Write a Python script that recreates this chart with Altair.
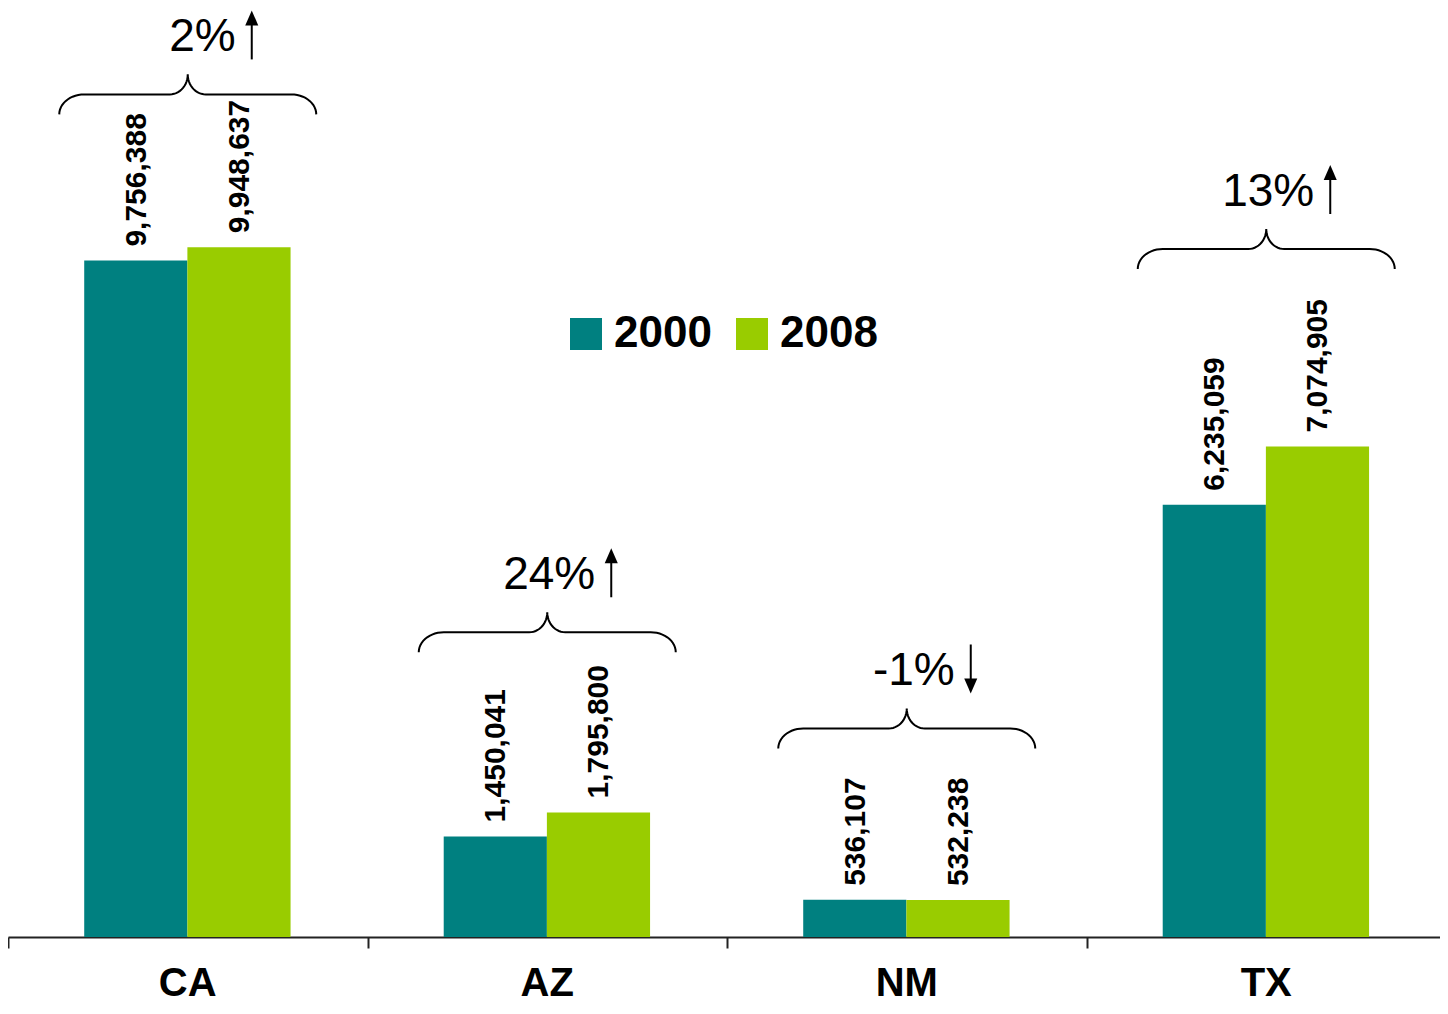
import altair as alt
import numpy as np
import pandas as pd

# ---- data ----
states = ["CA", "AZ", "NM", "TX"]
years = ["2000", "2008"]
pop_2000 = [9756388, 1450041, 536107, 6235059]
pop_2008 = [9948637, 1795800, 532238, 7074905]
change_labels = ["2%", "24%", "-1%", "13%"]
change_dir = ["up", "up", "down", "up"]
bracket_level = [11865000, 4107000, 2719000, 9635000]  # value level of brace ends

# ---- layout / style ----
W, H = 1432, 929
PX_X = 359.5                 # pixels per category slot
XMAX = W / PX_X
YMAX = 13.4e6
PX_Y = H / YMAX
FONT = "Liberation Sans"
TEAL = "#008080"
GREEN = "#99CC00"

# bars
rows = []
for i, s in enumerate(states):
    for yr, v, x0, x1 in (("2000", pop_2000[i], i + 0.212, i + 0.499),
                          ("2008", pop_2008[i], i + 0.499, i + 0.786)):
        rows.append(dict(state=s, year=yr, value=v, x0=x0, x1=x1,
                         xc=(x0 + x1) / 2, label=f"{v:,}"))
bars_df = pd.DataFrame(rows)

# braces (geometry in pixels, converted through the scales' px-per-unit)
def brace_pts(cx, base):
    t = np.linspace(0, np.pi / 2, 14)
    left = [(-103.5 - 25 * np.cos(a), 20 * np.sin(a)) for a in t]
    mid = [(-18 + 18 * np.sin(a), 40 - 20 * np.cos(a)) for a in t]
    half = left + mid
    right = [(-px, py) for px, py in reversed(half)]
    pts = half + right
    return [(cx + px / PX_X, base + py / PX_Y) for px, py in pts]

brace_rows = []
ann_rows = []
for i, s in enumerate(states):
    cx = i + 0.5
    base = bracket_level[i]
    for k, (bx, by) in enumerate(brace_pts(cx, base)):
        brace_rows.append(dict(state=s, k=k, bx=bx, by=by))
    up = change_dir[i] == "up"
    ann_rows.append(dict(
        state=s, pct=change_labels[i],
        tx=cx + 48 / PX_X, ty=base + 63 / PX_Y,
        ax=cx + 64 / PX_X,
        ay1=base + (55 if up else 68) / PX_Y,
        ay2=base + (91 if up else 104) / PX_Y,
        hy=base + (96.5 if up else 62.5) / PX_Y,
        shape=("M-0.87,1L0,-1L0.87,1Z" if up else "M-0.87,-1L0,1L0.87,-1Z"),
    ))
brace_df = pd.DataFrame(brace_rows)
ann_df = pd.DataFrame(ann_rows)
cat_df = pd.DataFrame(dict(state=states, cx=[i + 0.5 for i in range(4)], zero=[0] * 4))

xscale = alt.Scale(domain=[0, XMAX], nice=False, zero=False)
yscale = alt.Scale(domain=[0, YMAX], nice=False, zero=True)
xaxis = alt.Axis(values=[0, 1, 2, 3], labels=False, domainColor="#222222",
                 domainWidth=2, tickColor="#222222", tickWidth=2, tickSize=11,
                 grid=False, title=None, orient="bottom")


def X(field):
    return alt.X(field, type="quantitative", scale=xscale, axis=xaxis)


def Y(field):
    return alt.Y(field, type="quantitative", scale=yscale, axis=None)


bars = alt.Chart(bars_df).mark_rect().encode(
    x=X("x0"), x2="x1", y=Y("value"), y2=alt.datum(0),
    color=alt.Color("year:N", scale=alt.Scale(domain=years, range=[TEAL, GREEN]),
                    legend=alt.Legend(orient="none", legendX=556, legendY=304,
                                      direction="horizontal", title=None,
                                      symbolType="square", symbolSize=1024,
                                      symbolStrokeWidth=0, symbolOpacity=1,
                                      labelFont=FONT, labelFontSize=44,
                                      labelFontWeight="bold", labelColor="black",
                                      labelOffset=6, columnPadding=18,
                                      labelLimit=0, padding=0)),
)

value_labels = alt.Chart(bars_df).mark_text(
    angle=270, align="left", baseline="alphabetic", dx=14, dy=10,
    font=FONT, fontSize=30, fontWeight="bold", color="black",
).encode(x=X("xc"), y=Y("value"), text="label:N")

braces = alt.Chart(brace_df).mark_line(color="black", strokeWidth=2).encode(
    x=X("bx"), y=Y("by"), detail="state:N", order="k:Q")

pct = alt.Chart(ann_df).mark_text(
    align="right", baseline="alphabetic", font=FONT, fontSize=46, color="black",
).encode(x=X("tx"), y=Y("ty"), text="pct:N")

shafts = alt.Chart(ann_df).mark_rule(color="black", strokeWidth=2).encode(
    x=X("ax"), y=Y("ay1"), y2="ay2")

heads = alt.Chart(ann_df).mark_point(filled=True, color="black", opacity=1,
                                      strokeWidth=0, size=225).encode(
    x=X("ax"), y=Y("hy"), shape=alt.Shape("shape:N", scale=None))

cats = alt.Chart(cat_df).mark_text(
    align="center", baseline="alphabetic", dy=59, font=FONT, fontSize=40,
    fontWeight="bold", color="black",
).encode(x=X("cx"), y=Y("zero"), text="state:N")

chart = alt.layer(bars, value_labels, braces, pct, shafts, heads, cats).properties(
    width=W, height=H,
    padding={"left": 0, "top": 0, "right": 0, "bottom": 68},
    autosize=alt.AutoSizeParams(type="none"),
).configure_view(stroke=None)

chart.save("out.html", embed_options={"renderer": "svg", "actions": False})
